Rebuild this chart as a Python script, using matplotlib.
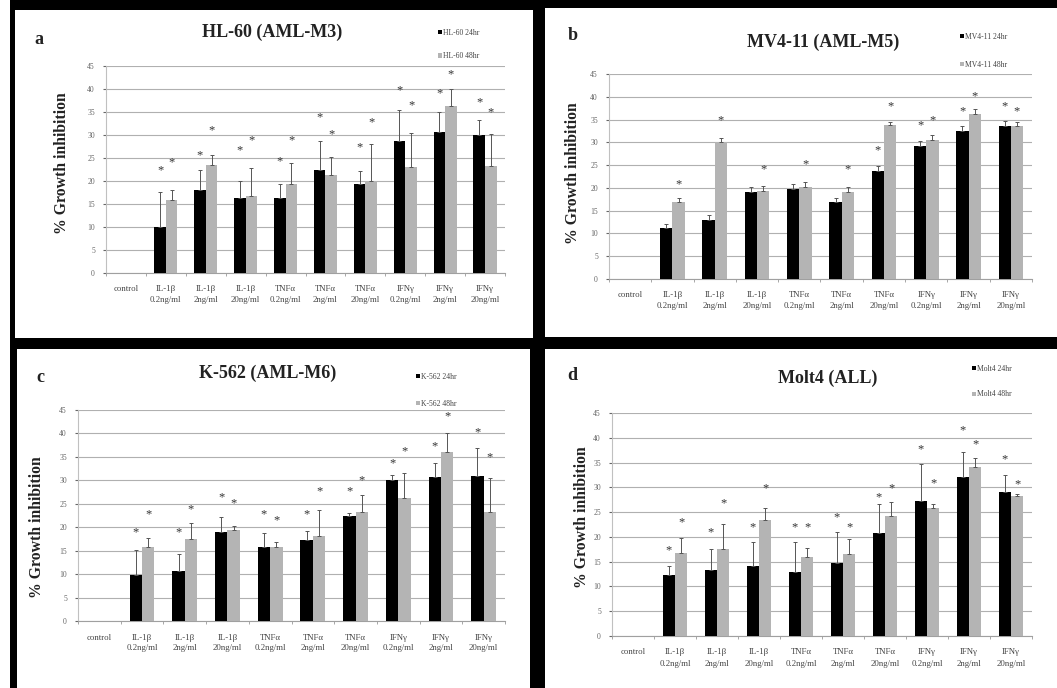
import numpy as np
import matplotlib
matplotlib.use("Agg")
import matplotlib.pyplot as plt
from matplotlib.patches import Rectangle

plt.rcParams['font.family'] = ['Liberation Serif', 'DejaVu Serif']

W, H = 1057, 688
nan = np.nan

categories = ["control", "IL-1β\n0.2ng/ml", "IL-1β\n2ng/ml", "IL-1β\n20ng/ml",
              "TNFα\n0.2ng/ml", "TNFα\n2ng/ml", "TNFα\n20ng/ml",
              "IFNγ\n0.2ng/ml", "IFNγ\n2ng/ml", "IFNγ\n20ng/ml"]
yticks = [0, 5, 10, 15, 20, 25, 30, 35, 40, 45]

# a: HL-60
hl60_24 = [0, 10.1, 18.0, 16.3, 16.2, 22.3, 19.3, 28.7, 30.7, 29.9]
hl60_48 = [0, 15.8, 23.5, 16.7, 19.3, 21.4, 20.1, 23.0, 36.2, 23.3]
hl60_24_err = [0, 7.5, 4.3, 3.8, 3.1, 6.4, 2.9, 6.7, 4.2, 3.3]
hl60_48_err = [0, 2.2, 2.1, 6.1, 4.7, 3.8, 8.0, 7.5, 3.9, 7.0]
hl60_24_star = [nan, 22.3, 25.6, 26.7, 24.3, 33.8, 27.4, 39.7, 39.0, 37.2]
hl60_48_star = [nan, 24.0, 31.0, 28.8, 28.8, 30.1, 32.8, 36.5, 43.2, 35.0]

# b: MV4-11
mv411_24 = [0, 11.2, 13.0, 19.2, 19.7, 17.0, 23.7, 29.3, 32.4, 33.6]
mv411_48 = [0, 17.0, 30.0, 19.4, 20.2, 19.2, 33.7, 30.5, 36.2, 33.5]
mv411_24_err = [0, 0.9, 1.1, 1.1, 1.1, 0.8, 1.2, 0.9, 1.1, 1.0]
mv411_48_err = [0, 0.8, 0.9, 1.1, 1.0, 1.0, 0.7, 1.1, 1.1, 0.9]
mv411_24_star = [nan, nan, nan, nan, nan, nan, 28.3, 33.7, 36.9, 38.0]
mv411_48_star = [nan, 20.8, 34.9, 24.0, 25.1, 24.0, 38.0, 34.9, 40.2, 36.9]

# c: K-562
k562_24 = [0, 9.8, 10.7, 19.0, 15.7, 17.2, 22.4, 30.0, 30.8, 31.0]
k562_48 = [0, 15.7, 17.4, 19.4, 15.7, 18.1, 23.3, 26.3, 36.1, 23.3]
k562_24_err = [0, 5.4, 3.5, 3.2, 3.0, 2.0, 0.7, 1.1, 2.9, 5.8]
k562_48_err = [0, 2.0, 3.4, 0.8, 1.2, 5.5, 3.5, 5.2, 3.9, 7.1]
k562_24_star = [nan, 19.0, 19.0, 26.3, 22.7, 22.7, 27.6, 33.6, 37.3, 40.2]
k562_48_star = [nan, 22.7, 23.9, 25.1, 21.5, 27.6, 29.9, 36.1, 43.6, 35.0]

# d: Molt4
molt4_24 = [0, 12.3, 13.4, 14.2, 13.0, 14.8, 20.7, 27.3, 32.1, 29.1]
molt4_48 = [0, 16.7, 17.5, 23.4, 16.0, 16.5, 24.2, 25.9, 34.1, 28.3]
molt4_24_err = [0, 1.8, 4.1, 4.8, 6.0, 6.2, 5.9, 7.5, 5.0, 3.3]
molt4_48_err = [0, 3.1, 5.2, 2.5, 1.8, 3.0, 2.9, 0.8, 1.8, 0.3]
molt4_24_star = [nan, 17.2, 21.0, 21.9, 22.0, 23.9, 27.9, 37.6, 41.5, 35.7]
molt4_48_star = [nan, 22.9, 26.7, 29.9, 22.0, 22.0, 29.9, 30.8, 38.6, 30.6]


def fx(px):
    return px / W


def fy(py):
    return 1 - py / H


fig = plt.figure(figsize=(W / 100, H / 100), dpi=100, facecolor="black")
fig.patches.append(Rectangle((0, 0), fx(10), 1, transform=fig.transFigure,
                             facecolor="white", zorder=-2))


def panel(box, axbox, letter, letter_xy, title, title_xy, name, v24, v48, e24, e48,
          s24, s48, leg_xy, leg_sp, ylab_xy):
    x0, y0, x1, y1 = box
    fig.patches.append(Rectangle((fx(x0), fy(y1)), fx(x1 - x0), (y1 - y0) / H,
                                 transform=fig.transFigure, facecolor="white",
                                 edgecolor="none", zorder=-2))
    ax0, ay0, ax1, ay1 = axbox
    ax = fig.add_axes([fx(ax0), fy(ay1), fx(ax1 - ax0), (ay1 - ay0) / H])
    x = np.arange(len(categories))
    w = 0.29
    ekw = dict(ecolor="#555555", elinewidth=0.7, capsize=1.5, capthick=0.7)
    b1 = ax.bar(x - w / 2, v24, w, color="black", label=name + " 24hr", zorder=3)
    b2 = ax.bar(x + w / 2, v48, w, color="#b4b4b4", label=name + " 48hr", zorder=3)
    for off, v, e in [(-w / 2, v24, e24), (w / 2, v48, e48)]:
        v = np.array(v)
        e = np.array(e)
        m = e > 0
        ax.errorbar(x[m] + off, v[m], yerr=[np.zeros(m.sum()), e[m]], fmt="none",
                    zorder=4, **ekw)
    for i in range(len(categories)):
        if not np.isnan(s24[i]):
            ax.text(x[i] - w / 2, s24[i], "*", ha="center", va="center", fontsize=9,
                    color="#333333", zorder=5)
        if not np.isnan(s48[i]):
            ax.text(x[i] + w / 2, s48[i], "*", ha="center", va="center", fontsize=9,
                    color="#333333", zorder=5)
    ax.set_xlim(-0.5, len(categories) - 0.5)
    ax.set_ylim(0, 45)
    ax.set_yticks(yticks)
    ax.set_xticks(x)
    ax.set_xticklabels(categories, fontsize=6.3, color="#444444", linespacing=1.5)
    ax.tick_params(axis="x", length=0, pad=9)
    ax.tick_params(axis="y", labelsize=5.5, colors="#666666", length=2, pad=6)
    ax.set_xticks(np.arange(-0.5, len(categories), 1), minor=True)
    ax.tick_params(axis="x", which="minor", length=2, color="#999999")
    ax.grid(axis="y", color="#b0b0b0", linewidth=0.8, zorder=0)
    ax.set_axisbelow(True)
    for s in ["top", "right"]:
        ax.spines[s].set_visible(False)
    ax.spines["left"].set_color("#c0c0c0")
    ax.spines["bottom"].set_color("#a0a0a0")
    fig.text(fx(title_xy[0]), fy(title_xy[1]), title, ha="center", va="center",
             fontsize=13, fontweight="bold", color="#222222")
    fig.text(fx(letter_xy[0]), fy(letter_xy[1]), letter, ha="center", va="center",
             fontsize=13, fontweight="bold", color="#222222")
    fig.text(fx(ylab_xy[0]), fy(ylab_xy[1]), "% Growth inhibition", ha="center",
             va="center", rotation=90, fontsize=11.3, fontweight="bold", color="#222222")
    ax.legend(handles=[b1, b2], loc="upper left",
              bbox_to_anchor=(fx(leg_xy[0]), fy(leg_xy[1])), bbox_transform=fig.transFigure,
              frameon=False, fontsize=5.5, handlelength=0.5, handleheight=0.5,
              handletextpad=0.2, labelspacing=leg_sp, borderpad=0, labelcolor="#444444")
    return ax


panel((15, 10, 533, 338), (106, 66, 505, 273), "a", (39, 40), "HL-60 (AML-M3)", (272, 32),
      "HL-60", hl60_24, hl60_48, hl60_24_err, hl60_48_err, hl60_24_star, hl60_48_star,
      (434, 25), 2.0, (62, 163))
panel((545, 8, 1057, 337), (609, 74, 1032, 279), "b", (573, 36), "MV4-11 (AML-M5)", (823, 42),
      "MV4-11", mv411_24, mv411_48, mv411_24_err, mv411_48_err, mv411_24_star, mv411_48_star,
      (956, 29), 2.6, (573, 173))
panel((17, 349, 530, 688), (78, 410, 505, 621), "c", (40, 377), "K-562 (AML-M6)", (268, 373),
      "K-562", k562_24, k562_48, k562_24_err, k562_48_err, k562_24_star, k562_48_star,
      (412, 369), 2.5, (37, 527))
panel((545, 349, 1057, 688), (612, 413, 1032, 636), "d", (572, 376), "Molt4 (ALL)", (828, 378),
      "Molt4", molt4_24, molt4_48, molt4_24_err, molt4_48_err, molt4_24_star, molt4_48_star,
      (968, 361), 2.3, (582, 517))

fig.savefig("out.png", dpi=100, facecolor=fig.get_facecolor())
